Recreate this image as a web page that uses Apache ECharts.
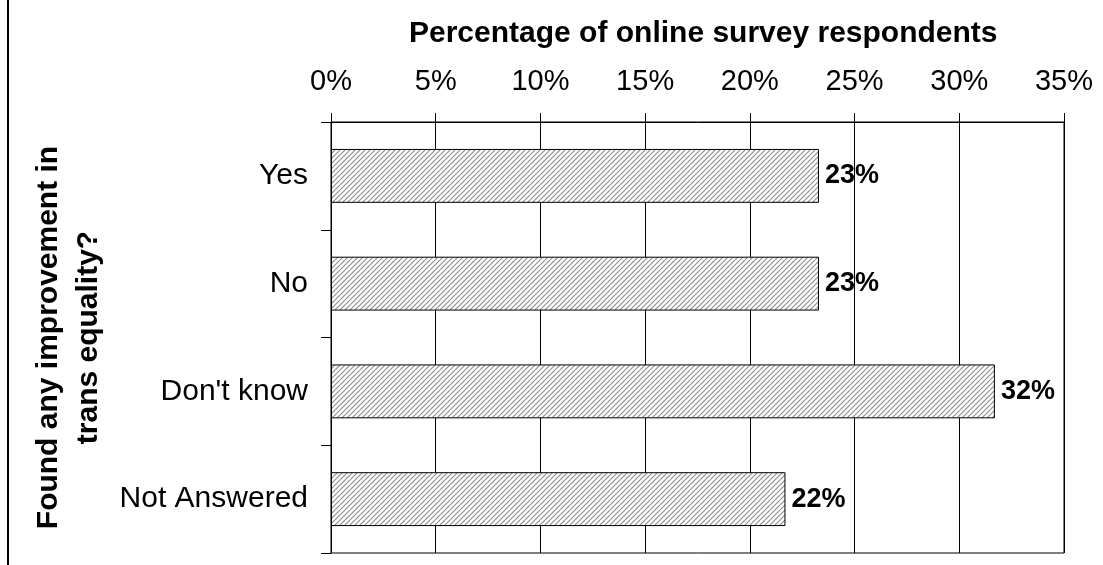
<!DOCTYPE html>
<html>
<head>
<meta charset="utf-8">
<script src="https://cdn.jsdelivr.net/npm/echarts@6/dist/echarts.min.js"></script>
<style>
html,body{margin:0;padding:0;background:#fff;}
#chart{width:1103px;height:565px;}
</style>
</head>
<body>
<div id="chart"></div>
<script>
const categories = ["Yes", "No", "Don't know", "Not Answered"];
const values = [23.3, 23.3, 31.7, 21.7];
const axisTitle = "Percentage of online survey respondents";
const yTitle = "Found any improvement in\ntrans equality?";

const FONT = "'Liberation Sans', Arial, sans-serif";

// hatch pattern
const P = 5;
const tile = document.createElement('canvas');
tile.width = P * 2; tile.height = P * 2;
const ctx = tile.getContext('2d');
ctx.fillStyle = '#ffffff';
ctx.fillRect(0, 0, P * 2, P * 2);
ctx.strokeStyle = '#8c8c8c';
ctx.lineWidth = 1.1;
for (let c = -2 * P; c <= 6 * P; c += P) {
  ctx.beginPath();
  ctx.moveTo(c, 0);
  ctx.lineTo(c - 2 * P, 2 * P);
  ctx.stroke();
}

const chart = echarts.init(document.getElementById('chart'), null, {renderer: 'canvas'});
chart.setOption({
  animation: false,
  backgroundColor: '#ffffff',
  title: {
    text: axisTitle,
    left: 404,
    top: 14,
    textStyle: {fontFamily: FONT, fontSize: 30, fontWeight: 'bold', color: '#000'}
  },
  grid: {
    left: 331, right: 39, top: 122, bottom: 12,
    containLabel: false,
    outerBoundsMode: 'none',
    show: true,
    borderColor: '#000',
    borderWidth: 1,
    backgroundColor: 'transparent'
  },
  xAxis: {
    type: 'value',
    position: 'top',
    min: 0, max: 35, interval: 5,
    axisLine: {show: true, lineStyle: {color: '#000', width: 1}},
    axisTick: {show: true, length: 9, inside: false, lineStyle: {color: '#000'}},
    axisLabel: {
      formatter: '{value}%',
      fontFamily: FONT, fontSize: 29, color: '#000', margin: 26
    },
    splitLine: {show: true, lineStyle: {color: '#000', width: 1}}
  },
  yAxis: {
    type: 'category',
    data: categories,
    inverse: true,
    axisLine: {show: true, lineStyle: {color: '#000', width: 1}},
    axisTick: {show: true, length: 10, lineStyle: {color: '#000'}},
    axisLabel: {fontFamily: FONT, fontSize: 30, color: '#000', margin: 23},
    splitLine: {show: false},
    name: yTitle,
    nameLocation: 'middle',
    nameRotate: 90,
    nameGap: 220,
    nameTextStyle: {fontFamily: FONT, fontSize: 30, fontWeight: 'bold', color: '#000', lineHeight: 40}
  },
  series: [{
    type: 'bar',
    data: values,
    barWidth: '50%',
    itemStyle: {
      color: {image: tile, repeat: 'repeat'},
      borderColor: '#000',
      borderWidth: 1
    },
    label: {
      show: true,
      position: 'right',
      distance: 6,
      formatter: p => Math.round(p.value) + '%',
      fontFamily: FONT, fontSize: 27, fontWeight: 'bold', color: '#000'
    }
  }],
  graphic: [{
    type: 'line',
    shape: {x1: 8, y1: 0, x2: 8, y2: 565},
    style: {stroke: '#000', lineWidth: 2}
  }]
});
</script>
</body>
</html>
